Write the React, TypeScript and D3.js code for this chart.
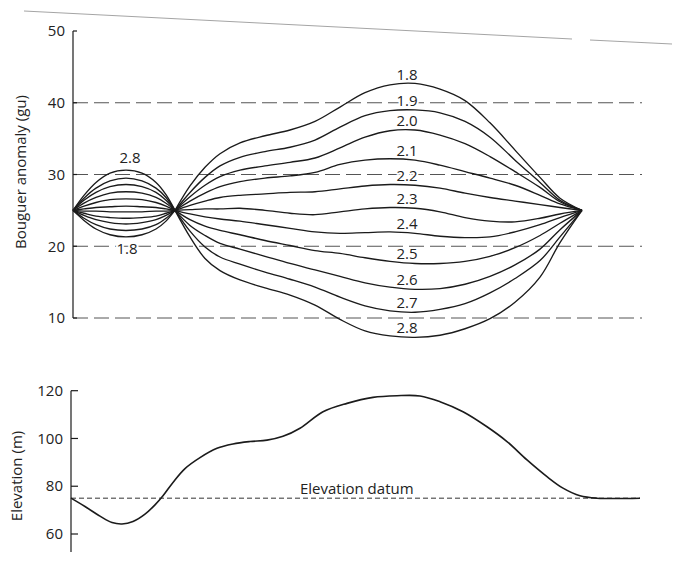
import React from "react";
import * as d3 from "d3";

// Densities (Mg/m3) used for the Bouguer reduction
const densities = ["1.8", "1.9", "2.0", "2.1", "2.2", "2.3", "2.4", "2.5", "2.6", "2.7", "2.8"];

// Distance along the profile (arbitrary units) for the western valley lobe and the main hill
const lobeDist = [0, 11, 23, 37, 53, 69, 83, 93, 102];
const hillDist = [102, 117, 132, 147, 167, 192, 217, 242, 267, 292, 317, 342, 367, 392, 417, 442, 467, 487, 509];

// Bouguer anomaly (gu) over the valley, one row per density
const lobeAnomaly = [
  [25, 23.6, 22.4, 21.6, 21.3, 21.6, 22.4, 23.5, 25],
  [25, 23.9, 23.0, 22.4, 22.2, 22.4, 23.0, 23.9, 25],
  [25, 24.3, 23.7, 23.3, 23.1, 23.3, 23.7, 24.3, 25],
  [25, 24.6, 24.2, 24.0, 23.9, 24.0, 24.2, 24.6, 25],
  [25, 24.9, 24.9, 24.8, 24.8, 24.8, 24.9, 24.9, 25],
  [25, 25.2, 25.4, 25.5, 25.6, 25.5, 25.4, 25.2, 25],
  [25, 25.6, 26.1, 26.5, 26.6, 26.5, 26.1, 25.6, 25],
  [25, 26.0, 26.8, 27.4, 27.6, 27.4, 26.8, 26.0, 25],
  [25, 26.4, 27.5, 28.3, 28.6, 28.3, 27.5, 26.4, 25],
  [25, 26.7, 28.1, 29.1, 29.5, 29.1, 28.1, 26.8, 25],
  [25, 27.1, 28.9, 30.2, 30.6, 30.2, 28.9, 27.2, 25],
];

// Bouguer anomaly (gu) over the hill, one row per density
const hillAnomaly = [
  [25, 28.4, 31.0, 32.9, 34.4, 35.4, 36.2, 37.4, 39.4, 41.4, 42.5, 42.7, 41.9, 40.3, 37.2, 33.4, 29.6, 26.7, 25],
  [25, 27.5, 29.6, 31.2, 32.4, 33.2, 33.8, 34.8, 36.6, 38.2, 38.9, 39.0, 38.6, 37.4, 35.2, 32.0, 28.9, 26.4, 25],
  [25, 26.9, 28.5, 29.7, 30.6, 31.2, 31.7, 32.3, 33.7, 35.2, 36.1, 36.2, 35.5, 34.3, 32.5, 30.4, 28.2, 26.2, 25],
  [25, 26.3, 27.4, 28.3, 29.0, 29.5, 29.8, 30.3, 31.4, 32.0, 32.2, 32.0, 31.3, 30.4, 29.5, 28.5, 27.1, 25.9, 25],
  [25, 25.7, 26.3, 26.8, 27.1, 27.3, 27.5, 27.6, 28.0, 28.4, 28.6, 28.5, 28.1, 27.4, 26.8, 26.3, 25.8, 25.4, 25],
  [25, 25.1, 25.2, 25.2, 25.3, 25.0, 24.6, 24.4, 24.8, 25.2, 25.4, 25.3, 24.8, 24.0, 23.5, 23.4, 23.9, 24.5, 25],
  [25, 24.5, 24.1, 23.8, 23.5, 23.0, 22.5, 22.0, 21.8, 21.9, 22.0, 21.8, 21.4, 21.2, 21.3, 22.0, 23.0, 24.0, 25],
  [25, 23.7, 22.8, 22.2, 21.6, 20.8, 20.1, 19.4, 19.0, 18.4, 17.9, 17.6, 17.6, 17.9, 18.6, 19.8, 21.5, 23.2, 25],
  [25, 22.9, 21.5, 20.4, 19.6, 18.6, 17.6, 16.7, 15.8, 14.9, 14.3, 14.0, 14.1, 14.7, 15.8, 17.4, 19.6, 22.3, 25],
  [25, 22.1, 19.9, 18.5, 17.5, 16.4, 15.4, 14.3, 12.9, 11.7, 11.0, 10.8, 11.2, 12.0, 13.5, 15.5, 18.0, 21.3, 25],
  [25, 21.3, 18.3, 16.6, 15.3, 14.2, 13.2, 11.8, 9.8, 8.2, 7.5, 7.3, 7.6, 8.5, 9.9, 12.2, 15.7, 20.5, 25],
];

// Topographic profile
const profileDist = [0, 14, 29, 41, 51, 62, 74, 84, 92, 102, 114, 129, 146, 162, 179, 196, 212, 229, 252, 276, 302, 326, 349, 369, 392, 416, 436, 456, 476, 492, 509, 526, 569];
const elevation = [75, 71.5, 67.5, 64.8, 64.2, 65.2, 68.3, 72.2, 76.0, 81.6, 87.4, 92.0, 95.9, 97.7, 98.7, 99.3, 100.9, 104.3, 111.2, 114.7, 117.2, 117.9, 117.8, 115.4, 111.2, 104.9, 98.7, 91.0, 84.0, 79.2, 76.0, 75.0, 75.0];
const datumElevation = 75;
const datumExtent = [0, 569];

const anomalyTicks = [10, 20, 30, 40, 50];
const anomalyGrid = [10, 20, 30, 40];
const elevationTicks = [60, 80, 100, 120];

const labelDist = 334;

const W = 681;
const H = 561;
const FONT = "'Open Sans', 'Noto Sans', sans-serif";
const INK = "#1b1b1b";
const FS = 15;

const x = d3.scaleLinear().domain([0, 570]).range([73, 643]);
const yAnom = d3.scaleLinear().domain([10, 50]).range([318, 31]);
const yElev = d3.scaleLinear().domain([60, 120]).range([534, 390.7]);

const anomalyLine = d3
  .line<[number, number]>()
  .x((d) => x(d[0]))
  .y((d) => yAnom(d[1]))
  .curve(d3.curveCatmullRom.alpha(0.5));

const elevationLine = d3
  .line<[number, number]>()
  .x((d) => x(d[0]))
  .y((d) => yElev(d[1]))
  .curve(d3.curveCatmullRom.alpha(0.5));

const halo = {
  paintOrder: "stroke" as const,
  stroke: "#fff",
  strokeWidth: 4,
  strokeLinejoin: "round" as const,
};

export default function App() {
  const x0 = x(0);
  return (
    <svg
      width={W}
      height={H}
      viewBox={`0 0 ${W} ${H}`}
      style={{ position: "absolute", left: 0, top: 0, background: "#fff" }}
      fontFamily={FONT}
    >
      {/* page edge */}
      <line x1={24} y1={11} x2={572} y2={39} stroke="#9a9a9a" strokeWidth={0.9} />
      <line x1={590} y1={40} x2={672} y2={44} stroke="#9a9a9a" strokeWidth={0.9} />

      {/* ---------- Bouguer anomaly panel ---------- */}
      <g>
        {anomalyGrid.map((v) => (
          <line
            key={`g${v}`}
            x1={x0}
            x2={x(569)}
            y1={yAnom(v)}
            y2={yAnom(v)}
            stroke="#555"
            strokeWidth={1}
            strokeDasharray="15 6"
          />
        ))}
        <line x1={x0} x2={x0} y1={yAnom(50)} y2={yAnom(10)} stroke={INK} strokeWidth={1.2} />
        {anomalyTicks.map((v) => (
          <g key={`t${v}`}>
            <line x1={x0} x2={x0 + 4} y1={yAnom(v)} y2={yAnom(v)} stroke={INK} strokeWidth={1.2} />
            <text x={x0 - 8} y={yAnom(v)} dy="0.35em" textAnchor="end" fontSize={FS} fill="#222">
              {v}
            </text>
          </g>
        ))}
        <text
          transform={`translate(21,172) rotate(-90)`}
          textAnchor="middle"
          dy="0.35em"
          fontSize={FS}
          fill="#222"
        >
          Bouguer anomaly (gu)
        </text>

        {densities.map((rho, i) => (
          <g key={rho} fill="none" stroke={INK} strokeWidth={1.35}>
            <path d={anomalyLine(lobeDist.map((d, j) => [d, lobeAnomaly[i][j]]) as [number, number][]) || ""} />
            <path d={anomalyLine(hillDist.map((d, j) => [d, hillAnomaly[i][j]]) as [number, number][]) || ""} />
          </g>
        ))}

        {densities.map((rho, i) => {
          const at = d3.scaleLinear().domain(hillDist).range(hillAnomaly[i]);
          return (
            <text
              key={`l${rho}`}
              x={x(labelDist)}
              y={yAnom(at(labelDist)) - 9}
              dy="0.35em"
              textAnchor="middle"
              fontSize={FS}
              fill="#222"
              style={halo}
            >
              {rho}
            </text>
          );
        })}
        <text
          x={x(lobeDist[4]) + 4}
          y={yAnom(lobeAnomaly[10][4]) - 12}
          dy="0.35em"
          textAnchor="middle"
          fontSize={FS}
          fill="#222"
          style={halo}
        >
          {densities[10]}
        </text>
        <text
          x={x(lobeDist[4]) + 1}
          y={yAnom(lobeAnomaly[0][4]) + 12}
          dy="0.35em"
          textAnchor="middle"
          fontSize={FS}
          fill="#222"
          style={halo}
        >
          {densities[0]}
        </text>
      </g>

      {/* ---------- Elevation panel ---------- */}
      <g transform="translate(-2,0)">
        <line
          x1={x(datumExtent[0])}
          x2={x(datumExtent[1])}
          y1={yElev(datumElevation)}
          y2={yElev(datumElevation)}
          stroke="#333"
          strokeWidth={1}
          strokeDasharray="5 3"
        />
        <text x={x(229)} y={yElev(datumElevation) - 4} fontSize={FS} fill="#222">
          Elevation datum
        </text>
        <line x1={x0} x2={x0} y1={yElev(120)} y2={yElev(52.5)} stroke={INK} strokeWidth={1.2} />
        {elevationTicks.map((v) => (
          <g key={`e${v}`}>
            <line x1={x0} x2={x0 + 7} y1={yElev(v)} y2={yElev(v)} stroke={INK} strokeWidth={1.2} />
            <text x={x0 - 8} y={yElev(v)} dy="0.35em" textAnchor="end" fontSize={FS} fill="#222">
              {v}
            </text>
          </g>
        ))}
        <text
          transform={`translate(19,476) rotate(-90)`}
          textAnchor="middle"
          dy="0.35em"
          fontSize={FS}
          fill="#222"
        >
          Elevation (m)
        </text>
        <path
          d={elevationLine(profileDist.map((d, j) => [d, elevation[j]]) as [number, number][]) || ""}
          fill="none"
          stroke={INK}
          strokeWidth={1.6}
        />
      </g>
    </svg>
  );
}
